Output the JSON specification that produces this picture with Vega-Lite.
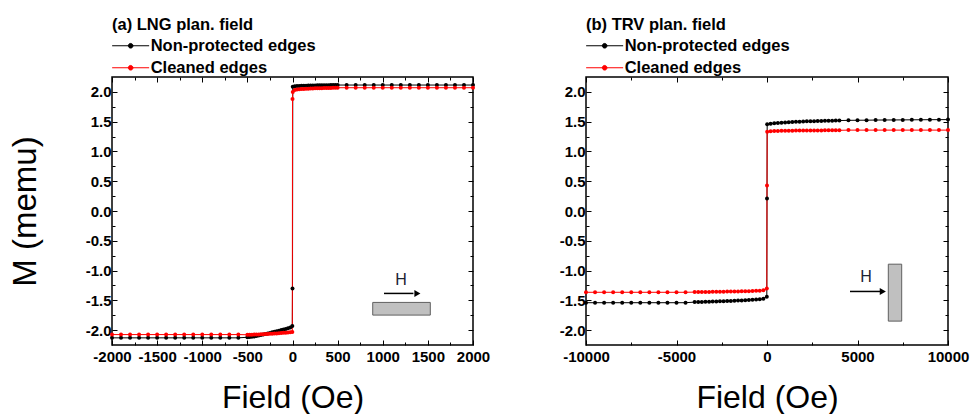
{
  "$schema": "https://vega.github.io/schema/vega-lite/v6.json",
  "padding": {"left": 8, "top": 16, "right": 0, "bottom": 0},
  "background": "white",
  "config": {
    "font": "Liberation Sans",
    "view": {"stroke": "black", "strokeWidth": 1.5},
    "axis": {"grid": false, "domain": false, "tickColor": "black", "tickWidth": 1, "labelColor": "black", "labelFontWeight": "bold", "labelFontSize": 15, "labelFont": "Liberation Sans", "titleFont": "Liberation Sans", "titleFontWeight": "normal", "titleColor": "black", "labelFlush": false, "labelOverlap": false, "labelBound": false},
    "legend": {"orient": "none", "padding": 0, "labelFontSize": 16.5, "labelFontWeight": "bold", "labelColor": "black", "labelFont": "Liberation Sans", "labelLimit": 400, "titleFontSize": 16.5, "titleFontWeight": "bold", "titleColor": "black", "titleFont": "Liberation Sans", "titleLimit": 400, "titlePadding": 4, "rowPadding": 5, "symbolSize": 85.6, "symbolStrokeWidth": 1, "symbolOffset": 10.4, "labelOffset": 11.75, "symbolType": "M-4,0H4M-0.5,0A0.5,0.5 0 1,0 0.5,0A0.5,0.5 0 1,0 -0.5,0M-0.22,0A0.22,0.22 0 1,0 0.22,0A0.22,0.22 0 1,0 -0.22,0"}
  },
  "datasets": {
    "lng": [
      {"H": -2000, "M": -2.13, "e": "np"}, {"H": -1900, "M": -2.13, "e": "np"}, {"H": -1800, "M": -2.13, "e": "np"}, {"H": -1700, "M": -2.13, "e": "np"}, {"H": -1600, "M": -2.13, "e": "np"}, {"H": -1500, "M": -2.13, "e": "np"}, {"H": -1400, "M": -2.13, "e": "np"}, {"H": -1300, "M": -2.13, "e": "np"}, {"H": -1200, "M": -2.13, "e": "np"}, {"H": -1100, "M": -2.13, "e": "np"}, {"H": -1000, "M": -2.13, "e": "np"}, {"H": -900, "M": -2.13, "e": "np"}, {"H": -800, "M": -2.13, "e": "np"}, {"H": -700, "M": -2.13, "e": "np"}, {"H": -600, "M": -2.13, "e": "np"},
      {"H": -500, "M": -2.12, "e": "np"}, {"H": -475, "M": -2.117, "e": "np"}, {"H": -450, "M": -2.113, "e": "np"}, {"H": -425, "M": -2.108, "e": "np"}, {"H": -400, "M": -2.1, "e": "np"}, {"H": -375, "M": -2.092, "e": "np"}, {"H": -350, "M": -2.083, "e": "np"}, {"H": -325, "M": -2.074, "e": "np"}, {"H": -300, "M": -2.065, "e": "np"}, {"H": -275, "M": -2.056, "e": "np"}, {"H": -250, "M": -2.047, "e": "np"}, {"H": -225, "M": -2.038, "e": "np"}, {"H": -200, "M": -2.029, "e": "np"}, {"H": -175, "M": -2.02, "e": "np"}, {"H": -150, "M": -2.01, "e": "np"}, {"H": -125, "M": -2.0, "e": "np"}, {"H": -100, "M": -1.99, "e": "np"}, {"H": -75, "M": -1.98, "e": "np"}, {"H": -50, "M": -1.968, "e": "np"}, {"H": -25, "M": -1.955, "e": "np"}, {"H": -2, "M": -1.93, "e": "np"},
      {"H": 0, "M": -1.3, "e": "np"},
      {"H": 3, "M": 2.085, "e": "np"}, {"H": 25, "M": 2.095, "e": "np"}, {"H": 50, "M": 2.1, "e": "np"}, {"H": 75, "M": 2.1, "e": "np"}, {"H": 100, "M": 2.102, "e": "np"}, {"H": 125, "M": 2.104, "e": "np"}, {"H": 150, "M": 2.105, "e": "np"}, {"H": 175, "M": 2.106, "e": "np"}, {"H": 200, "M": 2.107, "e": "np"}, {"H": 225, "M": 2.108, "e": "np"}, {"H": 250, "M": 2.109, "e": "np"}, {"H": 275, "M": 2.11, "e": "np"}, {"H": 300, "M": 2.11, "e": "np"}, {"H": 325, "M": 2.111, "e": "np"}, {"H": 350, "M": 2.112, "e": "np"}, {"H": 375, "M": 2.112, "e": "np"}, {"H": 400, "M": 2.113, "e": "np"}, {"H": 425, "M": 2.114, "e": "np"}, {"H": 450, "M": 2.114, "e": "np"}, {"H": 475, "M": 2.115, "e": "np"}, {"H": 500, "M": 2.115, "e": "np"},
      {"H": 600, "M": 2.115, "e": "np"}, {"H": 700, "M": 2.115, "e": "np"}, {"H": 800, "M": 2.115, "e": "np"}, {"H": 900, "M": 2.115, "e": "np"}, {"H": 1000, "M": 2.115, "e": "np"}, {"H": 1100, "M": 2.115, "e": "np"}, {"H": 1200, "M": 2.115, "e": "np"}, {"H": 1300, "M": 2.115, "e": "np"}, {"H": 1400, "M": 2.115, "e": "np"}, {"H": 1500, "M": 2.115, "e": "np"}, {"H": 1600, "M": 2.115, "e": "np"}, {"H": 1700, "M": 2.115, "e": "np"}, {"H": 1800, "M": 2.115, "e": "np"}, {"H": 1900, "M": 2.115, "e": "np"}, {"H": 2000, "M": 2.115, "e": "np"},
      {"H": -2000, "M": -2.075, "e": "cl"}, {"H": -1900, "M": -2.075, "e": "cl"}, {"H": -1800, "M": -2.075, "e": "cl"}, {"H": -1700, "M": -2.075, "e": "cl"}, {"H": -1600, "M": -2.075, "e": "cl"}, {"H": -1500, "M": -2.075, "e": "cl"}, {"H": -1400, "M": -2.075, "e": "cl"}, {"H": -1300, "M": -2.075, "e": "cl"}, {"H": -1200, "M": -2.075, "e": "cl"}, {"H": -1100, "M": -2.075, "e": "cl"}, {"H": -1000, "M": -2.075, "e": "cl"}, {"H": -900, "M": -2.075, "e": "cl"}, {"H": -800, "M": -2.075, "e": "cl"}, {"H": -700, "M": -2.075, "e": "cl"}, {"H": -600, "M": -2.075, "e": "cl"},
      {"H": -500, "M": -2.078, "e": "cl"}, {"H": -475, "M": -2.077, "e": "cl"}, {"H": -450, "M": -2.076, "e": "cl"}, {"H": -425, "M": -2.075, "e": "cl"}, {"H": -400, "M": -2.074, "e": "cl"}, {"H": -375, "M": -2.072, "e": "cl"}, {"H": -350, "M": -2.07, "e": "cl"}, {"H": -325, "M": -2.068, "e": "cl"}, {"H": -300, "M": -2.066, "e": "cl"}, {"H": -275, "M": -2.064, "e": "cl"}, {"H": -250, "M": -2.062, "e": "cl"}, {"H": -225, "M": -2.06, "e": "cl"}, {"H": -200, "M": -2.058, "e": "cl"}, {"H": -175, "M": -2.055, "e": "cl"}, {"H": -150, "M": -2.052, "e": "cl"}, {"H": -125, "M": -2.049, "e": "cl"}, {"H": -100, "M": -2.046, "e": "cl"}, {"H": -75, "M": -2.043, "e": "cl"}, {"H": -50, "M": -2.04, "e": "cl"}, {"H": -25, "M": -2.036, "e": "cl"}, {"H": -2, "M": -2.03, "e": "cl"},
      {"H": 0, "M": 1.88, "e": "cl"},
      {"H": 3, "M": 2.0, "e": "cl"}, {"H": 25, "M": 2.03, "e": "cl"}, {"H": 50, "M": 2.04, "e": "cl"}, {"H": 75, "M": 2.045, "e": "cl"}, {"H": 100, "M": 2.048, "e": "cl"}, {"H": 125, "M": 2.05, "e": "cl"}, {"H": 150, "M": 2.052, "e": "cl"}, {"H": 175, "M": 2.054, "e": "cl"}, {"H": 200, "M": 2.056, "e": "cl"}, {"H": 225, "M": 2.058, "e": "cl"}, {"H": 250, "M": 2.06, "e": "cl"}, {"H": 275, "M": 2.061, "e": "cl"}, {"H": 300, "M": 2.062, "e": "cl"}, {"H": 325, "M": 2.063, "e": "cl"}, {"H": 350, "M": 2.064, "e": "cl"}, {"H": 375, "M": 2.065, "e": "cl"}, {"H": 400, "M": 2.066, "e": "cl"}, {"H": 425, "M": 2.067, "e": "cl"}, {"H": 450, "M": 2.068, "e": "cl"}, {"H": 475, "M": 2.069, "e": "cl"}, {"H": 500, "M": 2.07, "e": "cl"},
      {"H": 600, "M": 2.07, "e": "cl"}, {"H": 700, "M": 2.07, "e": "cl"}, {"H": 800, "M": 2.07, "e": "cl"}, {"H": 900, "M": 2.07, "e": "cl"}, {"H": 1000, "M": 2.07, "e": "cl"}, {"H": 1100, "M": 2.07, "e": "cl"}, {"H": 1200, "M": 2.07, "e": "cl"}, {"H": 1300, "M": 2.07, "e": "cl"}, {"H": 1400, "M": 2.07, "e": "cl"}, {"H": 1500, "M": 2.07, "e": "cl"}, {"H": 1600, "M": 2.07, "e": "cl"}, {"H": 1700, "M": 2.07, "e": "cl"}, {"H": 1800, "M": 2.07, "e": "cl"}, {"H": 1900, "M": 2.07, "e": "cl"}, {"H": 2000, "M": 2.07, "e": "cl"}
    ],
    "trv": [
      {"H": -10000, "M": -1.54, "e": "np"}, {"H": -9500, "M": -1.54, "e": "np"}, {"H": -9000, "M": -1.54, "e": "np"}, {"H": -8500, "M": -1.54, "e": "np"}, {"H": -8000, "M": -1.54, "e": "np"}, {"H": -7500, "M": -1.54, "e": "np"}, {"H": -7000, "M": -1.54, "e": "np"}, {"H": -6500, "M": -1.54, "e": "np"}, {"H": -6000, "M": -1.54, "e": "np"}, {"H": -5500, "M": -1.54, "e": "np"}, {"H": -5000, "M": -1.54, "e": "np"}, {"H": -4500, "M": -1.54, "e": "np"},
      {"H": -4000, "M": -1.53, "e": "np"}, {"H": -3800, "M": -1.528, "e": "np"}, {"H": -3600, "M": -1.526, "e": "np"}, {"H": -3400, "M": -1.524, "e": "np"}, {"H": -3200, "M": -1.522, "e": "np"}, {"H": -3000, "M": -1.52, "e": "np"}, {"H": -2800, "M": -1.518, "e": "np"}, {"H": -2600, "M": -1.516, "e": "np"}, {"H": -2400, "M": -1.514, "e": "np"}, {"H": -2200, "M": -1.512, "e": "np"}, {"H": -2000, "M": -1.51, "e": "np"}, {"H": -1800, "M": -1.507, "e": "np"}, {"H": -1600, "M": -1.504, "e": "np"}, {"H": -1400, "M": -1.501, "e": "np"}, {"H": -1200, "M": -1.498, "e": "np"}, {"H": -1000, "M": -1.495, "e": "np"}, {"H": -800, "M": -1.491, "e": "np"}, {"H": -600, "M": -1.487, "e": "np"}, {"H": -400, "M": -1.482, "e": "np"}, {"H": -200, "M": -1.472, "e": "np"}, {"H": -10, "M": -1.44, "e": "np"},
      {"H": 0, "M": 0.21, "e": "np"},
      {"H": 10, "M": 1.455, "e": "np"}, {"H": 200, "M": 1.465, "e": "np"}, {"H": 400, "M": 1.472, "e": "np"}, {"H": 600, "M": 1.478, "e": "np"}, {"H": 800, "M": 1.483, "e": "np"}, {"H": 1000, "M": 1.487, "e": "np"}, {"H": 1200, "M": 1.491, "e": "np"}, {"H": 1400, "M": 1.494, "e": "np"}, {"H": 1600, "M": 1.497, "e": "np"}, {"H": 1800, "M": 1.5, "e": "np"}, {"H": 2000, "M": 1.503, "e": "np"}, {"H": 2200, "M": 1.505, "e": "np"}, {"H": 2400, "M": 1.507, "e": "np"}, {"H": 2600, "M": 1.509, "e": "np"}, {"H": 2800, "M": 1.511, "e": "np"}, {"H": 3000, "M": 1.513, "e": "np"}, {"H": 3200, "M": 1.515, "e": "np"}, {"H": 3400, "M": 1.516, "e": "np"}, {"H": 3600, "M": 1.517, "e": "np"}, {"H": 3800, "M": 1.518, "e": "np"}, {"H": 4000, "M": 1.519, "e": "np"},
      {"H": 4500, "M": 1.522, "e": "np"}, {"H": 5000, "M": 1.524, "e": "np"}, {"H": 5500, "M": 1.525, "e": "np"}, {"H": 6000, "M": 1.527, "e": "np"}, {"H": 6500, "M": 1.528, "e": "np"}, {"H": 7000, "M": 1.529, "e": "np"}, {"H": 7500, "M": 1.53, "e": "np"}, {"H": 8000, "M": 1.531, "e": "np"}, {"H": 8500, "M": 1.532, "e": "np"}, {"H": 9000, "M": 1.533, "e": "np"}, {"H": 9500, "M": 1.534, "e": "np"}, {"H": 10000, "M": 1.535, "e": "np"},
      {"H": -10000, "M": -1.365, "e": "cl"}, {"H": -9500, "M": -1.365, "e": "cl"}, {"H": -9000, "M": -1.365, "e": "cl"}, {"H": -8500, "M": -1.365, "e": "cl"}, {"H": -8000, "M": -1.365, "e": "cl"}, {"H": -7500, "M": -1.365, "e": "cl"}, {"H": -7000, "M": -1.365, "e": "cl"}, {"H": -6500, "M": -1.365, "e": "cl"}, {"H": -6000, "M": -1.365, "e": "cl"}, {"H": -5500, "M": -1.365, "e": "cl"}, {"H": -5000, "M": -1.365, "e": "cl"}, {"H": -4500, "M": -1.365, "e": "cl"},
      {"H": -4000, "M": -1.362, "e": "cl"}, {"H": -3800, "M": -1.361, "e": "cl"}, {"H": -3600, "M": -1.36, "e": "cl"}, {"H": -3400, "M": -1.359, "e": "cl"}, {"H": -3200, "M": -1.358, "e": "cl"}, {"H": -3000, "M": -1.357, "e": "cl"}, {"H": -2800, "M": -1.356, "e": "cl"}, {"H": -2600, "M": -1.355, "e": "cl"}, {"H": -2400, "M": -1.354, "e": "cl"}, {"H": -2200, "M": -1.353, "e": "cl"}, {"H": -2000, "M": -1.352, "e": "cl"}, {"H": -1800, "M": -1.351, "e": "cl"}, {"H": -1600, "M": -1.35, "e": "cl"}, {"H": -1400, "M": -1.349, "e": "cl"}, {"H": -1200, "M": -1.348, "e": "cl"}, {"H": -1000, "M": -1.346, "e": "cl"}, {"H": -800, "M": -1.344, "e": "cl"}, {"H": -600, "M": -1.341, "e": "cl"}, {"H": -400, "M": -1.337, "e": "cl"}, {"H": -200, "M": -1.33, "e": "cl"}, {"H": -10, "M": -1.3, "e": "cl"},
      {"H": 0, "M": 0.43, "e": "cl"},
      {"H": 10, "M": 1.33, "e": "cl"}, {"H": 200, "M": 1.338, "e": "cl"}, {"H": 400, "M": 1.342, "e": "cl"}, {"H": 600, "M": 1.344, "e": "cl"}, {"H": 800, "M": 1.346, "e": "cl"}, {"H": 1000, "M": 1.347, "e": "cl"}, {"H": 1200, "M": 1.348, "e": "cl"}, {"H": 1400, "M": 1.349, "e": "cl"}, {"H": 1600, "M": 1.35, "e": "cl"}, {"H": 1800, "M": 1.35, "e": "cl"}, {"H": 2000, "M": 1.351, "e": "cl"}, {"H": 2200, "M": 1.351, "e": "cl"}, {"H": 2400, "M": 1.352, "e": "cl"}, {"H": 2600, "M": 1.352, "e": "cl"}, {"H": 2800, "M": 1.353, "e": "cl"}, {"H": 3000, "M": 1.353, "e": "cl"}, {"H": 3200, "M": 1.354, "e": "cl"}, {"H": 3400, "M": 1.354, "e": "cl"}, {"H": 3600, "M": 1.355, "e": "cl"}, {"H": 3800, "M": 1.355, "e": "cl"}, {"H": 4000, "M": 1.355, "e": "cl"},
      {"H": 4500, "M": 1.358, "e": "cl"}, {"H": 5000, "M": 1.358, "e": "cl"}, {"H": 5500, "M": 1.358, "e": "cl"}, {"H": 6000, "M": 1.358, "e": "cl"}, {"H": 6500, "M": 1.358, "e": "cl"}, {"H": 7000, "M": 1.358, "e": "cl"}, {"H": 7500, "M": 1.358, "e": "cl"}, {"H": 8000, "M": 1.358, "e": "cl"}, {"H": 8500, "M": 1.358, "e": "cl"}, {"H": 9000, "M": 1.358, "e": "cl"}, {"H": 9500, "M": 1.358, "e": "cl"}, {"H": 10000, "M": 1.358, "e": "cl"}
    ]
  },
  "hconcat": [
    {
      "width": 361,
      "height": 268,
      "data": {"name": "lng"},
      "layer": [
        {
          "mark": {"type": "line", "strokeWidth": 1, "point": {"filled": true, "size": 16}},
          "encoding": {
            "x": {"field": "H", "type": "quantitative", "scale": {"domain": [-2000, 2000], "nice": false, "zero": false},
              "axis": {"orient": "bottom", "values": [-2000, -1750, -1500, -1250, -1000, -750, -500, -250, 0, 250, 500, 750, 1000, 1250, 1500, 1750, 2000], "labelExpr": "datum.value % 500 == 0 ? '' + datum.value : ''", "tickSize": {"condition": {"test": "datum.value % 500 == 0", "value": -5}, "value": -3}, "labelPadding": 9, "title": "Field (Oe)", "titleFontSize": 32, "titlePadding": 16}},
            "y": {"field": "M", "type": "quantitative", "scale": {"domain": [-2.25, 2.25], "nice": false, "zero": false},
              "axis": {"orient": "left", "values": [-2, -1.75, -1.5, -1.25, -1, -0.75, -0.5, -0.25, 0, 0.25, 0.5, 0.75, 1, 1.25, 1.5, 1.75, 2], "labelExpr": "datum.value % 0.5 == 0 ? replace(format(datum.value, '.1f'), '\u2212', '-') : ''", "tickSize": {"condition": {"test": "datum.value % 0.5 == 0", "value": -5}, "value": -3}, "labelPadding": 6, "title": "M (memu)", "titleFontSize": 33, "titlePadding": 43}},
            "color": {"field": "e", "type": "nominal", "scale": {"domain": ["np", "cl"], "range": ["black", "#ff0000"]},
              "legend": {"title": "(a) LNG plan. field", "legendX": 0, "legendY": -60, "labelExpr": "datum.value == 'np' ? 'Non-protected edges' : 'Cleaned edges'"}}
          }
        },
        {
          "mark": {"type": "point", "opacity": 0},
          "encoding": {
            "x": {"field": "H", "type": "quantitative", "scale": {"domain": [-2000, 2000], "nice": false, "zero": false},
              "axis": {"orient": "top", "values": [-2000, -1750, -1500, -1250, -1000, -750, -500, -250, 0, 250, 500, 750, 1000, 1250, 1500, 1750, 2000], "labels": false, "title": null, "tickSize": {"condition": {"test": "datum.value % 500 == 0", "value": -5}, "value": -3}}},
            "y": {"field": "M", "type": "quantitative", "scale": {"domain": [-2.25, 2.25], "nice": false, "zero": false},
              "axis": {"orient": "right", "values": [-2, -1.75, -1.5, -1.25, -1, -0.75, -0.5, -0.25, 0, 0.25, 0.5, 0.75, 1, 1.25, 1.5, 1.75, 2], "labels": false, "title": null, "tickSize": {"condition": {"test": "datum.value % 0.5 == 0", "value": -5}, "value": -3}}}
          }
        },
        {
          "data": {"values": [{}]},
          "mark": {"type": "rect", "fill": "#c0c0c0", "stroke": "#606060", "strokeWidth": 1},
          "encoding": {
            "x": {"datum": 889, "type": "quantitative", "scale": {"domain": [-2000, 2000], "nice": false, "zero": false}, "axis": null},
            "x2": {"datum": 1527},
            "y": {"datum": -1.535, "type": "quantitative", "scale": {"domain": [-2.25, 2.25], "nice": false, "zero": false}, "axis": null},
            "y2": {"datum": -1.748}
          }
        },
        {
          "data": {"values": [{}]},
          "mark": {"type": "rule", "stroke": "black", "strokeWidth": 1.5},
          "encoding": {
            "x": {"datum": 1014, "type": "quantitative", "scale": {"domain": [-2000, 2000], "nice": false, "zero": false}, "axis": null},
            "x2": {"datum": 1340},
            "y": {"datum": -1.384, "type": "quantitative", "scale": {"domain": [-2.25, 2.25], "nice": false, "zero": false}, "axis": null}
          }
        },
        {
          "data": {"values": [{}]},
          "mark": {"type": "point", "shape": "triangle-right", "filled": true, "color": "black", "size": 50, "opacity": 1},
          "encoding": {
            "x": {"datum": 1384, "type": "quantitative", "scale": {"domain": [-2000, 2000], "nice": false, "zero": false}, "axis": null},
            "y": {"datum": -1.384, "type": "quantitative", "scale": {"domain": [-2.25, 2.25], "nice": false, "zero": false}, "axis": null}
          }
        },
        {
          "data": {"values": [{}]},
          "mark": {"type": "text", "text": "H", "fontSize": 16, "color": "#1c2333", "align": "center", "baseline": "middle"},
          "encoding": {
            "x": {"datum": 1202, "type": "quantitative", "scale": {"domain": [-2000, 2000], "nice": false, "zero": false}, "axis": null},
            "y": {"datum": -1.158, "type": "quantitative", "scale": {"domain": [-2.25, 2.25], "nice": false, "zero": false}, "axis": null}
          }
        }
      ],
      "resolve": {"axis": {"x": "independent", "y": "independent"}}
    },
    {
      "width": 362,
      "height": 268,
      "data": {"name": "trv"},
      "layer": [
        {
          "mark": {"type": "line", "strokeWidth": 1, "point": {"filled": true, "size": 16}},
          "encoding": {
            "x": {"field": "H", "type": "quantitative", "scale": {"domain": [-10000, 10000], "nice": false, "zero": false},
              "axis": {"orient": "bottom", "values": [-10000, -7500, -5000, -2500, 0, 2500, 5000, 7500, 10000], "labelExpr": "datum.value % 5000 == 0 ? '' + datum.value : ''", "tickSize": {"condition": {"test": "datum.value % 5000 == 0", "value": -5}, "value": -3}, "labelPadding": 9, "title": "Field (Oe)", "titleFontSize": 32, "titlePadding": 16}},
            "y": {"field": "M", "type": "quantitative", "scale": {"domain": [-2.25, 2.25], "nice": false, "zero": false},
              "axis": {"orient": "left", "values": [-2, -1.75, -1.5, -1.25, -1, -0.75, -0.5, -0.25, 0, 0.25, 0.5, 0.75, 1, 1.25, 1.5, 1.75, 2], "labelExpr": "datum.value % 0.5 == 0 ? replace(format(datum.value, '.1f'), '\u2212', '-') : ''", "tickSize": {"condition": {"test": "datum.value % 0.5 == 0", "value": -5}, "value": -3}, "labelPadding": 6, "title": null}},
            "color": {"field": "e", "type": "nominal", "scale": {"domain": ["np", "cl"], "range": ["black", "#ff0000"]},
              "legend": {"title": "(b) TRV plan. field", "legendX": 0, "legendY": -60, "labelExpr": "datum.value == 'np' ? 'Non-protected edges' : 'Cleaned edges'"}}
          }
        },
        {
          "mark": {"type": "point", "opacity": 0},
          "encoding": {
            "x": {"field": "H", "type": "quantitative", "scale": {"domain": [-10000, 10000], "nice": false, "zero": false},
              "axis": {"orient": "top", "values": [-10000, -7500, -5000, -2500, 0, 2500, 5000, 7500, 10000], "labels": false, "title": null, "tickSize": {"condition": {"test": "datum.value % 5000 == 0", "value": -5}, "value": -3}}},
            "y": {"field": "M", "type": "quantitative", "scale": {"domain": [-2.25, 2.25], "nice": false, "zero": false},
              "axis": {"orient": "right", "values": [-2, -1.75, -1.5, -1.25, -1, -0.75, -0.5, -0.25, 0, 0.25, 0.5, 0.75, 1, 1.25, 1.5, 1.75, 2], "labels": false, "title": null, "tickSize": {"condition": {"test": "datum.value % 0.5 == 0", "value": -5}, "value": -3}}}
          }
        },
        {
          "data": {"values": [{}]},
          "mark": {"type": "rect", "fill": "#c0c0c0", "stroke": "#606060", "strokeWidth": 1},
          "encoding": {
            "x": {"datum": 6702, "type": "quantitative", "scale": {"domain": [-10000, 10000], "nice": false, "zero": false}, "axis": null},
            "x2": {"datum": 7442},
            "y": {"datum": -0.893, "type": "quantitative", "scale": {"domain": [-2.25, 2.25], "nice": false, "zero": false}, "axis": null},
            "y2": {"datum": -1.849}
          }
        },
        {
          "data": {"values": [{}]},
          "mark": {"type": "rule", "stroke": "black", "strokeWidth": 1.5},
          "encoding": {
            "x": {"datum": 4586, "type": "quantitative", "scale": {"domain": [-10000, 10000], "nice": false, "zero": false}, "axis": null},
            "x2": {"datum": 6250},
            "y": {"datum": -1.351, "type": "quantitative", "scale": {"domain": [-2.25, 2.25], "nice": false, "zero": false}, "axis": null}
          }
        },
        {
          "data": {"values": [{}]},
          "mark": {"type": "point", "shape": "triangle-right", "filled": true, "color": "black", "size": 50, "opacity": 1},
          "encoding": {
            "x": {"datum": 6400, "type": "quantitative", "scale": {"domain": [-10000, 10000], "nice": false, "zero": false}, "axis": null},
            "y": {"datum": -1.351, "type": "quantitative", "scale": {"domain": [-2.25, 2.25], "nice": false, "zero": false}, "axis": null}
          }
        },
        {
          "data": {"values": [{}]},
          "mark": {"type": "text", "text": "H", "fontSize": 16, "color": "#1c2333", "align": "center", "baseline": "middle"},
          "encoding": {
            "x": {"datum": 5470, "type": "quantitative", "scale": {"domain": [-10000, 10000], "nice": false, "zero": false}, "axis": null},
            "y": {"datum": -1.107, "type": "quantitative", "scale": {"domain": [-2.25, 2.25], "nice": false, "zero": false}, "axis": null}
          }
        }
      ],
      "resolve": {"axis": {"x": "independent", "y": "independent"}}
    }
  ],
  "spacing": 67,
  "resolve": {"legend": {"color": "independent"}}
}
